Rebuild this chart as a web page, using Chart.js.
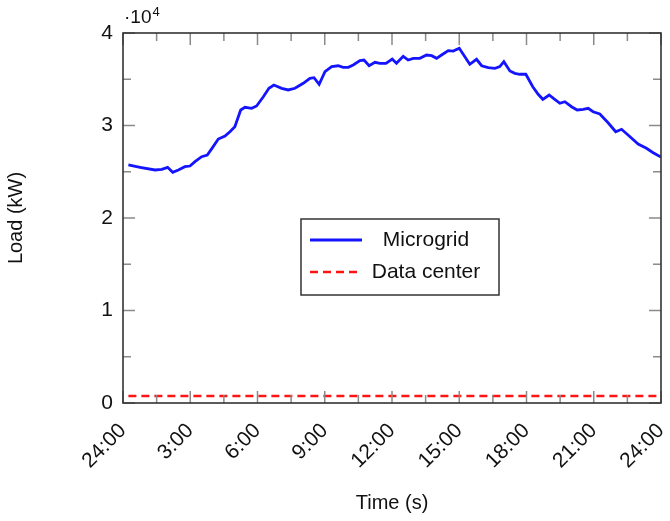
<!DOCTYPE html>
<html>
<head>
<meta charset="utf-8">
<script src="https://cdn.jsdelivr.net/npm/chart.js@4.4.0/dist/chart.umd.min.js"></script>
<style>
  html, body { margin: 0; padding: 0; background: #fff; }
</style>
</head>
<body>
<canvas id="loadChart" width="670" height="521"></canvas>
<script>
// hours after midnight and load in kW
const hours = [
  0.24, 0.76, 1.43, 1.73, 1.99, 2.22, 2.47, 2.76, 2.99, 3.21,
  3.51, 3.76, 4.00, 4.25, 4.55, 4.77, 4.99, 5.25, 5.44, 5.74,
  5.96, 6.26, 6.51, 6.73, 7.08, 7.37, 7.67, 8.04, 8.34, 8.52,
  8.75, 9.01, 9.31, 9.60, 9.82, 10.05, 10.27, 10.57, 10.75, 10.98,
  11.24, 11.46, 11.73, 12.01, 12.20, 12.50, 12.72, 12.95, 13.24, 13.54,
  13.77, 13.99, 14.21, 14.51, 14.73, 15.00, 15.25, 15.47, 15.77, 16.00,
  16.29, 16.59, 16.81, 16.99, 17.26, 17.48, 17.70, 17.97, 18.28, 18.52,
  18.73, 19.01, 19.26, 19.49, 19.71, 20.01, 20.26, 20.53, 20.75, 20.97,
  21.27, 21.64, 21.98, 22.24, 22.53, 22.98, 23.35, 23.65, 24.00
];
const microgridLoad = [
  25730, 25480, 25190, 25260, 25480, 24940, 25190, 25550, 25620, 26090,
  26630, 26810, 27640, 28540, 28860, 29330, 29870, 31680, 31970, 31860,
  32110, 33110, 34020, 34380, 34020, 33840, 34020, 34560, 35100, 35170,
  34450, 35820, 36360, 36460, 36290, 36290, 36540, 37010, 37080, 36460,
  36830, 36720, 36720, 37190, 36720, 37480, 37080, 37260, 37260, 37620,
  37550, 37260, 37620, 38090, 38050, 38350, 37440, 36620, 37160, 36460,
  36250, 36180, 36360, 36900, 35890, 35640, 35540, 35540, 34190, 33370,
  32830, 33300, 32830, 32400, 32570, 32030, 31680, 31750, 31860, 31490,
  31240, 30300, 29330, 29590, 28970, 28000, 27540, 27060, 26590
];
const dataCenterHours = [0.24, 24];
const dataCenterLoad = [760, 760];

const timeTickLabels = ["24:00", "3:00", "6:00", "9:00", "12:00", "15:00", "18:00", "21:00", "24:00"];
const loadTickLabels = ["0", "1", "2", "3", "4"];

const FONT = "'Liberation Sans', Arial, sans-serif";

function toPoints(xs, ys) {
  return xs.map((x, i) => ({ x: x, y: ys[i] }));
}

// box, inward ticks, exponent and the legend box inside the plot
const framePlugin = {
  id: "framePlugin",
  afterDatasetsDraw(chart) {
    const ctx = chart.ctx;
    const { left, right, top, bottom } = chart.chartArea;
    const xs = chart.scales.x;
    const ys = chart.scales.y;
    ctx.save();

    ctx.strokeStyle = "#8a8a8a";
    ctx.lineWidth = 1.5;
    ctx.beginPath();
    for (let h = 0; h <= 24; h += 1.5) {
      const px = xs.getPixelForValue(h);
      const len = h % 3 === 0 ? 12 : 8;
      ctx.moveTo(px, bottom); ctx.lineTo(px, bottom - len);
      ctx.moveTo(px, top); ctx.lineTo(px, top + len);
    }
    for (let v = 0; v <= 40000; v += 5000) {
      const py = ys.getPixelForValue(v);
      const len = v % 10000 === 0 ? 12 : 8;
      ctx.moveTo(left, py); ctx.lineTo(left + len, py);
      ctx.moveTo(right, py); ctx.lineTo(right - len, py);
    }
    ctx.stroke();

    ctx.strokeStyle = "#333";
    ctx.lineWidth = 1.6;
    ctx.strokeRect(left, top, right - left, bottom - top);

    // exponent
    ctx.fillStyle = "#111";
    ctx.textBaseline = "alphabetic";
    ctx.textAlign = "left";
    ctx.font = "19px " + FONT;
    ctx.fillText("\u00b710", left + 1, top - 10);
    const w = ctx.measureText("\u00b710").width;
    ctx.font = "13px " + FONT;
    ctx.fillText("4", left + 2 + w, top - 17);

    // legend
    const bx = 301, by = 219, bw = 198, bh = 76;
    ctx.fillStyle = "#fff";
    ctx.fillRect(bx, by, bw, bh);
    ctx.strokeStyle = "#333";
    ctx.lineWidth = 1.5;
    ctx.strokeRect(bx, by, bw, bh);
    const rows = [by + 21, by + 53];
    chart.data.datasets.forEach((ds, i) => {
      const y = rows[i];
      ctx.strokeStyle = ds.borderColor;
      ctx.lineWidth = ds.borderWidth;
      ctx.setLineDash(ds.borderDash || []);
      ctx.beginPath();
      ctx.moveTo(bx + 9, y);
      ctx.lineTo(bx + 61, y);
      ctx.stroke();
      ctx.setLineDash([]);
      ctx.fillStyle = "#111";
      ctx.font = "21px " + FONT;
      ctx.textAlign = "center";
      ctx.textBaseline = "middle";
      ctx.fillText(ds.label, bx + 125, y);
    });
    ctx.restore();
  }
};

new Chart(document.getElementById("loadChart").getContext("2d"), {
  type: "line",
  data: {
    datasets: [
      {
        label: "Microgrid",
        data: toPoints(hours, microgridLoad),
        borderColor: "rgb(20, 20, 255)",
        borderWidth: 2.8,
        pointRadius: 0,
        tension: 0,
        fill: false
      },
      {
        label: "Data center",
        data: toPoints(dataCenterHours, dataCenterLoad),
        borderColor: "rgb(255, 20, 20)",
        borderWidth: 2.4,
        borderDash: [8, 5],
        pointRadius: 0,
        fill: false
      }
    ]
  },
  options: {
    responsive: false,
    animation: false,
    layout: { padding: { left: 0, right: 9, top: 33, bottom: 0 } },
    plugins: {
      legend: { display: false },
      tooltip: { enabled: false }
    },
    scales: {
      x: {
        type: "linear",
        min: 0,
        max: 24,
        afterFit: (scale) => {
          scale.height = 118;
          scale.paddingLeft = 0;
          scale.paddingRight = 0;
        },
        grid: { display: false, drawTicks: false },
        border: { display: false },
        ticks: {
          stepSize: 3,
          minRotation: 45,
          maxRotation: 45,
          padding: 14,
          color: "#111",
          font: { family: FONT, size: 21, lineHeight: 1.4 },
          callback: (v) => timeTickLabels[Math.round(v / 3)]
        },
        title: {
          display: true,
          text: "Time (s)",
          color: "#111",
          font: { family: FONT, size: 20 },
          padding: { top: 0, bottom: 6 }
        }
      },
      y: {
        min: 0,
        max: 40000,
        afterFit: (scale) => {
          scale.width = 123;
          scale.paddingTop = 0;
          scale.paddingBottom = 0;
        },
        grid: { display: false, drawTicks: false },
        border: { display: false },
        ticks: {
          stepSize: 10000,
          padding: 10,
          color: "#111",
          font: { family: FONT, size: 21 },
          callback: (v) => loadTickLabels[Math.round(v / 10000)]
        },
        title: {
          display: true,
          text: "Load (kW)",
          color: "#111",
          font: { family: FONT, size: 20 },
          padding: { top: 4, bottom: 0 }
        }
      }
    }
  },
  plugins: [framePlugin]
});
</script>
</body>
</html>
